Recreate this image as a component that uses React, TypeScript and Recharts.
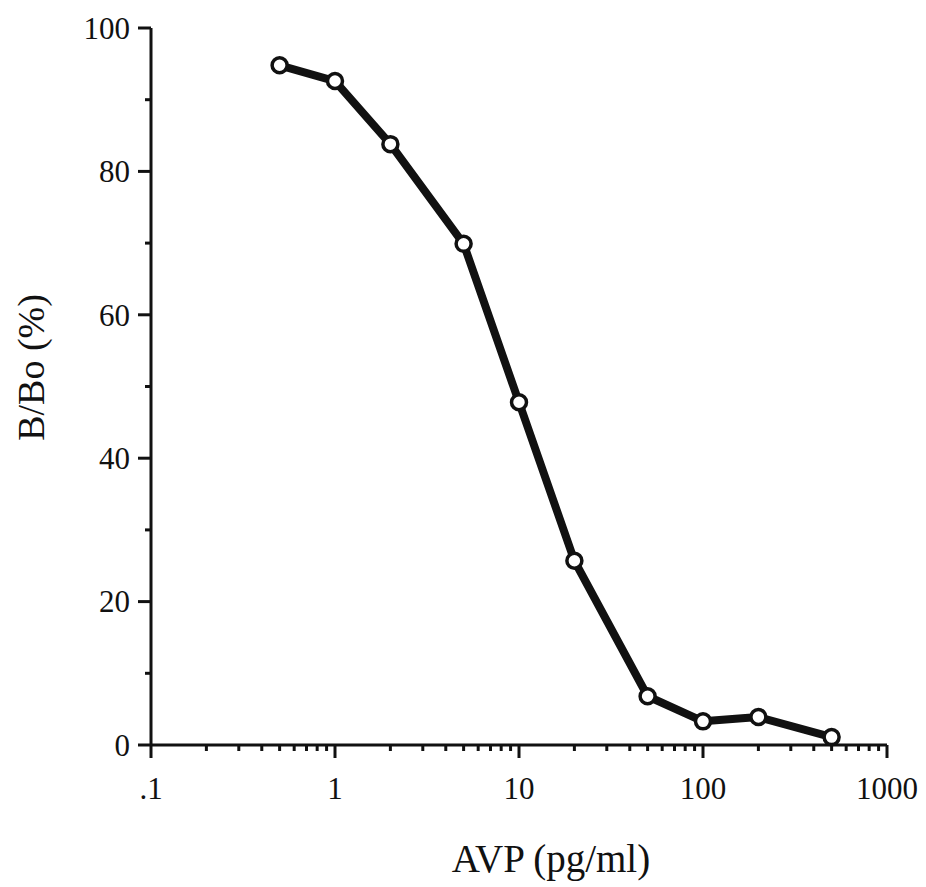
import React from 'react';
import { LineChart, Line, XAxis, YAxis, Label } from 'recharts';

// Concentrations (pg/ml) and binding (% B/Bo)
const avp = [0.5, 1, 2, 5, 10, 20, 50, 100, 200, 500];
const bbo = [94.8, 92.6, 83.8, 69.9, 47.8, 25.7, 6.8, 3.3, 3.9, 1.1];

const xMajor = [0.1, 1, 10, 100, 1000];
const xMajorLabels = ['.1', '1', '10', '100', '1000'];
const xMinorSteps = [2, 3, 4, 5, 6, 7, 8, 9];
const yTicks = [0, 10, 20, 30, 40, 50, 60, 70, 80, 90, 100];
const yLabelStep = 20;

const xTicks: number[] = [];
xMajor.forEach((d, i) => {
    xTicks.push(d);
    if (i < xMajor.length - 1) xMinorSteps.forEach((m) => xTicks.push(d * m));
});

const chartData = avp.map((v, i) => ({ avp: v, bbo: bbo[i] }));

const FONT = '"Liberation Serif", "Times New Roman", serif';
const INK = '#111';

const majorIndex = (v: number) => xMajor.findIndex((m) => Math.abs(Math.log10(v) - Math.log10(m)) < 1e-6);

const XTick = (props: any) => {
    const { x, y, payload } = props;
    const idx = majorIndex(payload.value);
    const major = idx >= 0;
    return (
        <g>
            <line x1={x} x2={x} y1={y} y2={y + (major ? 13 : 6)} stroke={INK} strokeWidth={3} />
            {major && (
                <text x={x} y={y + 54} textAnchor="middle" fontFamily={FONT} fontSize={31} fill={INK}>
                    {xMajorLabels[idx]}
                </text>
            )}
        </g>
    );
};

const YTick = (props: any) => {
    const { x, y, payload } = props;
    const major = payload.value % yLabelStep === 0;
    return (
        <g>
            <line x1={x - (major ? 13 : 6)} x2={x} y1={y} y2={y} stroke={INK} strokeWidth={3} />
            {major && (
                <text x={x - 21} y={y} dy="0.35em" textAnchor="end" fontFamily={FONT} fontSize={31} fill={INK}>
                    {payload.value}
                </text>
            )}
        </g>
    );
};

const YTitle = (props: any) => {
    const { viewBox } = props;
    const tx = viewBox.x + 44;
    const ty = viewBox.y + viewBox.height / 2 - 19;
    return (
        <text x={tx} y={ty} transform={`rotate(-90, ${tx}, ${ty})`} textAnchor="middle" fontFamily={FONT} fontSize={38} fill={INK}>
            B/Bo (%)
        </text>
    );
};

const XTitle = (props: any) => {
    const { viewBox } = props;
    const tx = viewBox.x + viewBox.width / 2 + 32;
    const ty = viewBox.y + viewBox.height - 15;
    return (
        <text x={tx} y={ty} textAnchor="middle" fontFamily={FONT} fontSize={39} fill={INK}>
            AVP (pg/ml)
        </text>
    );
};

const App = () => {
    return (
        <div style={{ position: 'absolute', left: 0, top: 0, width: 926, height: 887, background: '#fff' }}>
            <LineChart width={926} height={887} data={chartData} margin={{ top: 28, right: 39, left: 0, bottom: 0 }}>
                <XAxis
                    dataKey="avp"
                    type="number"
                    scale="log"
                    domain={[0.1, 1000]}
                    allowDataOverflow
                    ticks={xTicks}
                    interval={0}
                    height={142}
                    tickSize={0}
                    tickMargin={0}
                    tickLine={false}
                    axisLine={{ stroke: INK, strokeWidth: 3 }}
                    tick={<XTick />}
                >
                    <Label content={<XTitle />} />
                </XAxis>
                <YAxis
                    type="number"
                    domain={[0, 100]}
                    ticks={yTicks}
                    interval={0}
                    width={151}
                    tickSize={0}
                    tickMargin={0}
                    tickLine={false}
                    axisLine={{ stroke: INK, strokeWidth: 3 }}
                    tick={<YTick />}
                >
                    <Label content={<YTitle />} />
                </YAxis>
                <Line
                    type="linear"
                    dataKey="bbo"
                    stroke={INK}
                    strokeWidth={8}
                    strokeLinejoin="round"
                    dot={{ r: 7.5, fill: '#fff', stroke: INK, strokeWidth: 3.5 }}
                    isAnimationActive={false}
                />
            </LineChart>
        </div>
    );
};

export default App;
